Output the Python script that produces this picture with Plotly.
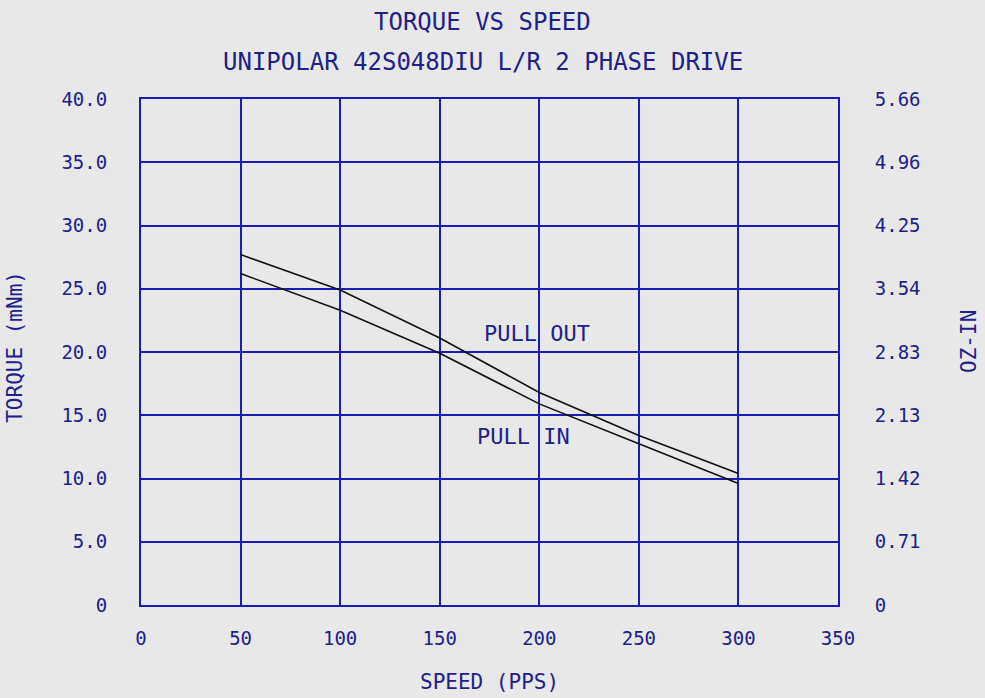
import plotly.graph_objects as go

speed = [50, 100, 150, 200, 250, 300]
pull_out = [27.7, 24.9, 21.1, 16.8, 13.4, 10.4]
pull_in = [26.2, 23.3, 19.9, 15.9, 12.75, 9.6]

x_ticks = [0, 50, 100, 150, 200, 250, 300, 350]
y_ticks = [0, 5, 10, 15, 20, 25, 30, 35, 40]
y_tick_text = ["0", "5.0", "10.0", "15.0", "20.0", "25.0", "30.0", "35.0", "40.0"]
y2_tick_text = ["0", "0.71", "1.42", "2.13", "2.83", "3.54", "4.25", "4.96", "5.66"]

TXT = "#20208a"
GRID = "#1c1cb4"
BG = "#e8e8e8"
FONT = "DejaVu Sans Mono"

fig = go.Figure()
fig.add_trace(go.Scatter(x=speed, y=pull_out, mode="lines", line=dict(color="#111111", width=1.6),
                         showlegend=False, hoverinfo="skip"))
fig.add_trace(go.Scatter(x=speed, y=pull_in, mode="lines", line=dict(color="#111111", width=1.6),
                         showlegend=False, hoverinfo="skip"))
fig.add_trace(go.Scatter(x=[0], y=[0], yaxis="y2", mode="markers", marker=dict(opacity=0),
                         showlegend=False, hoverinfo="skip"))

fig.update_layout(
    width=985, height=698,
    paper_bgcolor=BG, plot_bgcolor=BG,
    margin=dict(l=141, r=147, t=99, b=93),
    font=dict(family=FONT, color=TXT, size=19),
    xaxis=dict(range=[0, 350], tickvals=x_ticks, showgrid=True, gridcolor=GRID, gridwidth=2,
               showline=True, linecolor=GRID, linewidth=2, mirror=True, zeroline=False,
               ticks="outside", ticklen=15, tickcolor="rgba(0,0,0,0)",
               tickfont=dict(family=FONT, color=TXT, size=19)),
    yaxis=dict(range=[0, 40], tickvals=y_ticks, ticktext=y_tick_text, showgrid=True,
               gridcolor=GRID, gridwidth=2, showline=True, linecolor=GRID, linewidth=2,
               mirror=True, zeroline=False, ticks="outside", ticklen=28,
               tickcolor="rgba(0,0,0,0)", tickfont=dict(family=FONT, color=TXT, size=19)),
    yaxis2=dict(range=[0, 40], tickvals=y_ticks, ticktext=y2_tick_text, overlaying="y",
                side="right", showgrid=False, zeroline=False, showline=False,
                ticks="outside", ticklen=32, tickcolor="rgba(0,0,0,0)",
                tickfont=dict(family=FONT, color=TXT, size=19)),
    annotations=[
        dict(text="TORQUE VS SPEED", x=0.49, y=1.152, xref="paper", yref="paper",
             xanchor="center", yanchor="middle",
             showarrow=False, font=dict(family=FONT, color=TXT, size=24)),
        dict(text="UNIPOLAR 42S048DIU L/R 2 PHASE DRIVE", x=0.49, y=1.073, xref="paper",
             yref="paper", xanchor="center", yanchor="middle",
             showarrow=False, font=dict(family=FONT, color=TXT, size=24)),
        dict(text="SPEED (PPS)", x=0.5, y=-0.152, xref="paper", yref="paper",
             xanchor="center", yanchor="middle",
             showarrow=False, font=dict(family=FONT, color=TXT, size=21)),
        dict(text="TORQUE (mNm)", x=-0.181, y=0.51, xref="paper", yref="paper",
             xanchor="center", yanchor="middle",
             textangle=-90, showarrow=False, font=dict(family=FONT, color=TXT, size=21)),
        dict(text="OZ-IN", x=1.188, y=0.52, xref="paper", yref="paper",
             xanchor="center", yanchor="middle",
             textangle=-90, showarrow=False, font=dict(family=FONT, color=TXT, size=21)),
        dict(text="PULL OUT", x=199, y=21.5, xref="x", yref="y", showarrow=False,
             font=dict(family=FONT, color=TXT, size=22)),
        dict(text="PULL IN", x=192, y=13.3, xref="x", yref="y", showarrow=False,
             font=dict(family=FONT, color=TXT, size=22)),
    ],
)

fig.write_html(
    "out.html",
    config={"displayModeBar": False},
    post_script="document.body.style.margin='0';document.body.style.padding='0';"
                "document.body.style.background='#e8e8e8';"
                "document.documentElement.style.background='#e8e8e8';",
)
